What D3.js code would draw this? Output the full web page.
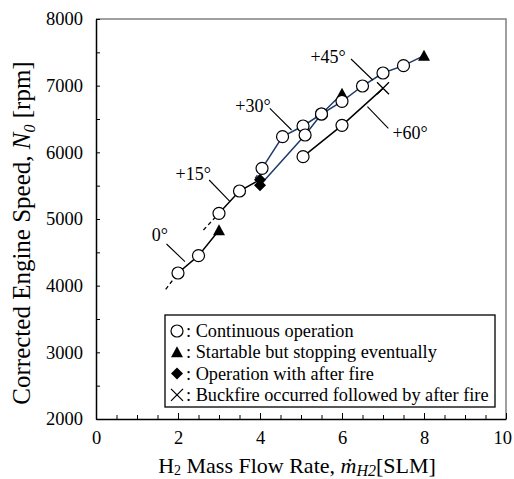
<!DOCTYPE html>
<html>
<head>
<meta charset="utf-8">
<script src="https://cdn.jsdelivr.net/npm/d3@7/dist/d3.min.js"></script>
<style>
  html, body { margin: 0; padding: 0; background: #fff; }
  svg text { font-family: "Liberation Serif", "Times New Roman", serif; fill: #000; }
</style>
</head>
<body>
<svg id="chart" width="514" height="479" font-family="Liberation Serif"></svg>
<script>
// H2 mass flow rate [SLM] vs corrected engine speed [rpm], one series per injection angle
const xTicks = [0, 2, 4, 6, 8, 10];
const yTicks = [2000, 3000, 4000, 5000, 6000, 7000, 8000];

// 0°
const flow0  = [2.0, 2.5, 3.0];
const speed0 = [4190, 4450, 4830];
const mark0  = ["circle", "circle", "triangle"];
const dashFlow0  = [1.7, 2.0];
const dashSpeed0 = [3945, 4190];

// +15°
const flow15  = [3.0, 3.5, 4.0];
const speed15 = [5085, 5420, 5590];
const mark15  = ["circle", "circle", "diamond"];
const dashFlow15  = [2.62, 3.0];
const dashSpeed15 = [4835, 5085];

// +30°
const flow30  = [4.05, 4.55, 5.05, 5.5, 6.0];
const speed30 = [5760, 6235, 6395, 6575, 6880];
const mark30  = ["circle", "circle", "circle", "circle", "triangle"];
const dashFlow30  = [3.88, 4.05];
const dashSpeed30 = [5610, 5760];

// +45°
const flow45  = [4.0, 5.1, 5.5, 6.0, 6.5, 7.0, 7.5, 8.0];
const speed45 = [5505, 6260, 6575, 6765, 6995, 7190, 7300, 7450];
const mark45  = ["diamond", "circle", "circle", "circle", "circle", "circle", "circle", "triangle"];

// +60°
const flow60  = [5.05, 6.0, 7.0];
const speed60 = [5935, 6405, 6960];
const mark60  = ["circle", "circle", "cross"];

// angle labels: text anchor and leader line (data units)
const labelText  = ["0°", "+15°", "+30°", "+45°", "+60°"];
const labelFlow  = [1.56, 2.37, 3.83, 5.66, 7.66];
const labelSpeed = [4670, 5585, 6605, 7340, 6200];
const leadFlow1  = [1.72, 2.76, 4.24, 6.22, 6.62];
const leadSpeed1 = [4625, 5585, 6660, 7400, 6685];
const leadFlow2  = [2.17, 3.27, 4.77, 6.75, 7.13];
const leadSpeed2 = [4360, 5260, 6335, 7085, 6360];

const legendMarks = ["circle", "triangle", "diamond", "cross"];
const legendTexts = [": Continuous operation",
                     ": Startable but stopping eventually",
                     ": Operation with after fire",
                     ": Buckfire occurred followed by after fire"];

const SERIF = "Liberation Serif";
const svg = d3.select("#chart");
const plotLeft = 96, plotRight = 506, plotTop = 19, plotBottom = 419;
const x = d3.scaleLinear().domain([0, 10]).range([plotLeft, plotRight]);
const y = d3.scaleLinear().domain([2000, 8000]).range([plotBottom, plotTop]);

const blue = "#1f3a68";

// frame: grey top/right, black axes
svg.append("path")
  .attr("d", `M${plotLeft},${plotTop}H${plotRight}V${plotBottom}`)
  .attr("fill", "none").attr("stroke", "#808080").attr("stroke-width", 1.5);

// x axis with inward ticks every 0.5
const xAxisMinor = d3.axisBottom(x).tickValues(d3.range(0, 10.01, 0.5)).tickSizeInner(-4).tickSizeOuter(0).tickFormat("");
svg.append("g").attr("transform", `translate(0,${plotBottom})`).call(xAxisMinor)
  .call(g => g.selectAll("line").attr("stroke", "#000"))
  .call(g => g.select(".domain").attr("stroke", "#000").attr("stroke-width", 1.5));
const xAxisMajor = d3.axisBottom(x).tickValues(xTicks).tickSizeInner(-6).tickSizeOuter(0).tickPadding(12);
svg.append("g").attr("transform", `translate(0,${plotBottom})`).call(xAxisMajor)
  .attr("font-family", SERIF)
  .call(g => g.select(".domain").remove())
  .call(g => g.selectAll("line").attr("stroke", "#000"))
  .call(g => g.selectAll("text").attr("font-size", 18.5).attr("font-family", SERIF).attr("fill", "#000")
    .attr("dx", d => d === 10 ? -2 : 0)
    .attr("text-anchor", d => d === 10 ? "end" : "middle")
    .attr("x", d => d === 10 ? 514 - plotRight - 0.5 : 0));

// y axis with inward ticks every 500
const yAxisMinor = d3.axisLeft(y).tickValues(d3.range(2000, 8001, 500)).tickSizeInner(-4).tickSizeOuter(0).tickFormat("");
svg.append("g").attr("transform", `translate(${plotLeft},0)`).call(yAxisMinor)
  .call(g => g.selectAll("line").attr("stroke", "#000"))
  .call(g => g.select(".domain").attr("stroke", "#000").attr("stroke-width", 1.5));
const yAxisMajor = d3.axisLeft(y).tickValues(yTicks).tickSize(0).tickPadding(13).tickFormat(d3.format("d"));
svg.append("g").attr("transform", `translate(${plotLeft},0)`).call(yAxisMajor)
  .attr("font-family", SERIF)
  .call(g => g.select(".domain").remove())
  .call(g => g.selectAll("text").attr("font-size", 18.5).attr("font-family", SERIF).attr("fill", "#000"));

// axis titles
const yTitle = svg.append("text")
  .attr("transform", `translate(30,${(plotTop + plotBottom) / 2 + 14}) rotate(-90)`)
  .attr("text-anchor", "middle").attr("font-size", 25).attr("font-family", SERIF);
yTitle.append("tspan").text("Corrected Engine Speed, ");
yTitle.append("tspan").attr("font-style", "italic").text("N");
yTitle.append("tspan").attr("font-style", "italic").attr("font-size", 16).attr("dy", 5).text("0");
yTitle.append("tspan").attr("dy", -5).text(" [rpm]");

const xTitle = svg.append("text")
  .attr("x", 297).attr("y", 473)
  .attr("text-anchor", "middle").attr("font-size", 22).attr("font-family", SERIF);
xTitle.append("tspan").text("H");
xTitle.append("tspan").attr("font-size", 14).attr("dy", 2).text("2");
xTitle.append("tspan").attr("dy", -2).text(" Mass Flow Rate, ");
xTitle.append("tspan").attr("font-style", "italic").text("ṁ");
xTitle.append("tspan").attr("font-style", "italic").attr("font-size", 16).attr("dy", 3).text("H2");
xTitle.append("tspan").attr("dy", -3).text("[SLM]");

// series lines
const line = d3.line().x(d => x(d[0])).y(d => y(d[1]));
const zip = (a, b) => a.map((v, i) => [v, b[i]]);

const series = [
  { f: flow0,  s: speed0,  m: mark0,  c: "#000", df: dashFlow0,  ds: dashSpeed0 },
  { f: flow15, s: speed15, m: mark15, c: "#000", df: dashFlow15, ds: dashSpeed15 },
  { f: flow30, s: speed30, m: mark30, c: blue,   df: dashFlow30, ds: dashSpeed30 },
  { f: flow45, s: speed45, m: mark45, c: blue },
  { f: flow60, s: speed60, m: mark60, c: "#000" }
];

series.forEach(sr => {
  if (sr.df) {
    svg.append("path").attr("d", line(zip(sr.df, sr.ds)))
      .attr("fill", "none").attr("stroke", sr.c).attr("stroke-width", 1.3)
      .attr("stroke-dasharray", "4,3");
  }
  svg.append("path").attr("d", line(zip(sr.f, sr.s)))
    .attr("fill", "none").attr("stroke", sr.c).attr("stroke-width", 1.5);
});

// markers
function drawMarker(g, type, cx, cy) {
  if (type === "circle") {
    g.append("circle").attr("cx", cx).attr("cy", cy).attr("r", 6)
      .attr("fill", "#fff").attr("stroke", "#000").attr("stroke-width", 1.2);
  } else if (type === "triangle") {
    g.append("path").attr("transform", `translate(${cx},${cy})`)
      .attr("d", "M0,-6L6,5L-6,5Z").attr("fill", "#000");
  } else if (type === "diamond") {
    g.append("path").attr("transform", `translate(${cx},${cy})`)
      .attr("d", "M0,-6L6,0L0,6L-6,0Z").attr("fill", "#000");
  } else if (type === "cross") {
    g.append("path").attr("transform", `translate(${cx},${cy})`)
      .attr("d", "M-6,-6L6,6M-6,6L6,-6").attr("stroke", "#000").attr("stroke-width", 1.3).attr("fill", "none");
  }
}
const marks = svg.append("g");
series.forEach(sr => {
  sr.f.forEach((v, i) => drawMarker(marks, sr.m[i], x(v), y(sr.s[i])));
});

// angle labels with leader lines
labelText.forEach((t, i) => {
  svg.append("line")
    .attr("x1", x(leadFlow1[i])).attr("y1", y(leadSpeed1[i]))
    .attr("x2", x(leadFlow2[i])).attr("y2", y(leadSpeed2[i]))
    .attr("stroke", "#000").attr("stroke-width", 1.1);
  svg.append("text").attr("x", x(labelFlow[i])).attr("y", y(labelSpeed[i]))
    .attr("text-anchor", "middle").attr("font-size", 18).attr("font-family", SERIF).text(t);
});

// legend
const lg = svg.append("g");
lg.append("rect").attr("x", 165).attr("y", 315).attr("width", 330).attr("height", 92)
  .attr("fill", "#fff").attr("stroke", "#000").attr("stroke-width", 1.3);
legendTexts.forEach((t, i) => {
  const cy = 331 + i * 21.3;
  drawMarker(lg, legendMarks[i], 177, cy);
  lg.append("text").attr("x", 186).attr("y", cy + 6).attr("font-size", 18.3).attr("font-family", SERIF).text(t);
});
</script>
</body>
</html>
